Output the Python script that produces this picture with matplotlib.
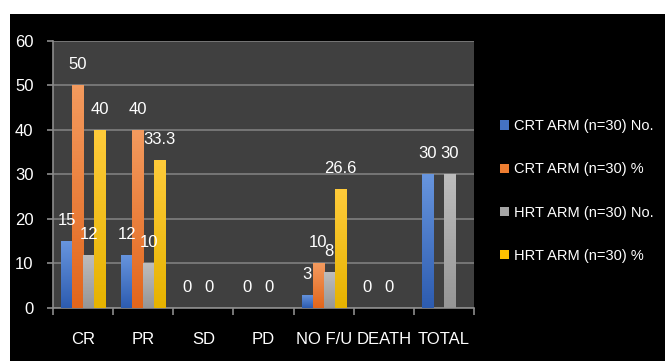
import numpy as np
import matplotlib
matplotlib.use('Agg')
import matplotlib.pyplot as plt
from matplotlib.patches import Rectangle, Patch
from matplotlib.colors import LinearSegmentedColormap

plt.rcParams['font.family'] = ['Liberation Sans Narrow', 'Liberation Sans', 'DejaVu Sans']

categories = ['CR', 'PR', 'SD', 'PD', 'NO F/U', 'DEATH', 'TOTAL']
series_names = ['CRT ARM (n=30) No.', 'CRT ARM (n=30) %',
                'HRT ARM (n=30) No.', 'HRT ARM (n=30) %']
crt_no = [15, 12, 0, 0, 3, 0, 30]
crt_pct = [50, 40, np.nan, np.nan, 10, np.nan, np.nan]
hrt_no = [12, 10, 0, 0, 8, 0, 30]
hrt_pct = [40, 33.3, np.nan, np.nan, 26.6, np.nan, np.nan]

# (top, bottom) colours of the gradient fill, plus legend colour
fills = [('#6795de', '#2d5cb0', '#4472c4'),
         ('#f39a5e', '#e2661c', '#ed7d31'),
         ('#bdbdbd', '#969696', '#a5a5a5'),
         ('#ffcb3a', '#e6b300', '#ffc000')]

fig = plt.figure(figsize=(6.65, 3.61), dpi=100, facecolor='white')
# black panel, white margin on top and left
fig.patches.append(Rectangle((10 / 665, 0), 1, (361 - 14) / 361,
                             transform=fig.transFigure, facecolor='black',
                             edgecolor='none', zorder=-10))

ax = fig.add_axes([53 / 665, 53 / 361, 421 / 665, 267.3 / 361])
ax.set_facecolor('#404040')

x = np.arange(len(categories))
w = 11 / 60
data = [crt_no, crt_pct, hrt_no, hrt_pct]

for i, vals in enumerate(data):
    top, bottom, legc = fills[i]
    cmap = LinearSegmentedColormap.from_list('g%d' % i, [bottom, top])
    grad = np.linspace(0, 1, 64).reshape(-1, 1)
    pos = x + (i - 1.5) * w
    bars = ax.bar(pos, np.nan_to_num(vals), w, color='none', zorder=3)
    for b, v in zip(bars, vals):
        if np.isnan(v):
            continue
        if v > 0:
            im = ax.imshow(grad, cmap=cmap, origin='lower', aspect='auto',
                           extent=[b.get_x(), b.get_x() + w, 0, v], zorder=3)
            im.set_clip_path(b)
        ax.annotate('%g' % v, (b.get_x() + w / 2, v), xytext=(0, 13),
                    textcoords='offset pixels', ha='center', va='bottom',
                    color='white', fontsize=12, zorder=5)

ax.set_xlim(-0.5, len(categories) - 0.5)
ax.set_ylim(0, 60)
ax.set_yticks(range(0, 61, 10))
ax.yaxis.grid(True, color='#7f7f7f', linewidth=1.2)
ax.set_axisbelow(True)

ax.set_xticks(x)
ax.set_xticklabels(categories)
ax.set_xticks(np.arange(-0.5, len(categories)), minor=True)
ax.tick_params(axis='x', which='major', length=0, pad=17, colors='white',
               labelsize=12)
ax.tick_params(axis='x', which='minor', length=5, width=1.2, color='#8c8c8c')
ax.tick_params(axis='y', length=4, width=1.2, pad=10, labelcolor='white',
               color='#8c8c8c', labelsize=12)

for side in ['top', 'right']:
    ax.spines[side].set_visible(False)
for side in ['left', 'bottom']:
    ax.spines[side].set_color('#8c8c8c')
    ax.spines[side].set_linewidth(1.2)

handles = [Patch(facecolor=f[2], edgecolor='none') for f in fills]
leg = fig.legend(handles, series_names, loc='center left',
                 bbox_to_anchor=(500 / 665, 1 - 191 / 361), frameon=False,
                 fontsize=10.5, handlelength=0.6, handleheight=0.6,
                 handletextpad=0.35, labelspacing=2.0,
                 borderpad=0, borderaxespad=0)
for t in leg.get_texts():
    t.set_color('white')

fig.savefig('out.png', dpi=100, facecolor='white')
